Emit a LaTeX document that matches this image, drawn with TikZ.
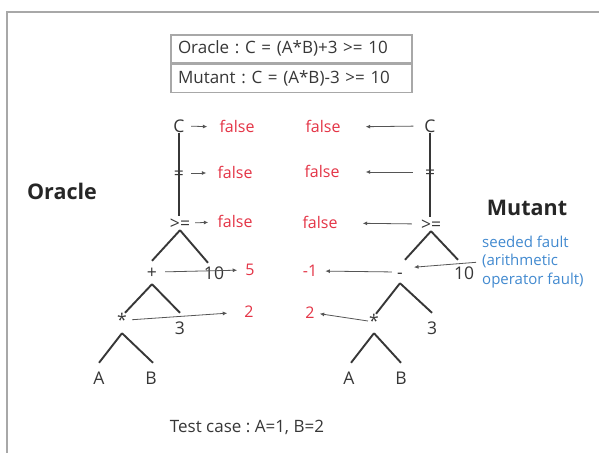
\documentclass[tikz,border=0pt]{standalone}
\usepackage{fontspec}
\setmainfont{Open Sans}
\usetikzlibrary{arrows.meta}
\definecolor{valred}{RGB}{228,52,70}
\definecolor{faultblue}{RGB}{66,138,208}
\definecolor{ink}{RGB}{55,55,55}
\definecolor{framegray}{RGB}{168,168,168}
\frenchspacing
\begin{document}
\begin{tikzpicture}[x=1pt,y=-1pt,
  sym/.style={text=ink,font=\fontsize{17.5}{17.5}\selectfont,inner sep=1pt,text height=12pt,text depth=0pt},
  val/.style={text=valred,font=\fontsize{16}{16}\selectfont,inner sep=0pt,text height=11pt,text depth=0pt},
  branch/.style={draw=ink,line width=1.9pt},
  feed/.style={draw=ink!85,line width=0.8pt,-{Latex[length=4.5pt,width=4pt]}},
  formula/.style={draw=framegray,line width=1.3pt,text width=227pt,align=left,inner xsep=7pt,
    inner ysep=6pt,text height=12.5pt,text depth=3.5pt,text=ink,font=\fontsize{17}{17}\selectfont},
  title/.style={text=black!85,font=\fontsize{21.5}{21.5}\selectfont\bfseries},
]
\useasboundingbox (0,0) rectangle (599,452);
\fill[white] (0,0) rectangle (599,452);
% outer frame (only its top and left sides fall inside the page)
\draw[framegray,line width=2.2pt] (7,470) -- (7,12) -- (620,12);

% the two expressions
\node[formula] (eqO) at (291.5,49) {Oracle : C = (A*B)+3 >= 10};
\node[formula] (eqM) at (291.5,78.5) {Mutant : C = (A*B)-3 >= 10};

% side titles
\node[title] (tO) at (62,191) {Oracle};
\node[title] (tM) at (527,208) {Mutant};

% oracle expression tree
\node[sym] (oC) at (179,126) {C};
\node[sym] (oEq) at (179,173) {=};
\node[sym] (oGe) at (180,223) {>=};
\node[sym] (oPlus) at (152,272) {+};
\node[sym] (o10) at (214,273) {10};
\node[sym] (oTimes) at (122,320) {*};
\node[sym] (o3) at (180,328) {3};
\node[sym] (oA) at (99,378) {A};
\node[sym] (oB) at (151,378) {B};

% mutant expression tree
\node[sym] (mC) at (430,126) {C};
\node[sym] (mEq) at (430,172) {=};
\node[sym] (mGe) at (431,224) {>=};
\node[sym] (mMinus) at (400,272) {-};
\node[sym] (m10) at (464,273) {10};
\node[sym] (mTimes) at (374,321) {*};
\node[sym] (m3) at (432,328) {3};
\node[sym] (mA) at (349,378) {A};
\node[sym] (mB) at (401,378) {B};

% evaluated values
\node[val] (oF1) at (237,127) {false};
\node[val] (oF2) at (235,173) {false};
\node[val] (oF3) at (235,222) {false};
\node[val] (o5) at (250,270) {5};
\node[val] (o2) at (249,312) {2};
\node[val] (mF1) at (323,127) {false};
\node[val] (mF2) at (322,172) {false};
\node[val] (mF3) at (320,223) {false};
\node[val] (mM1) at (310,271) {-1};
\node[val] (m2) at (310,313) {2};

% fault annotation
\node[anchor=west,align=left,inner sep=2pt,text=faultblue,
  font=\fontsize{15}{18.5}\selectfont] (fault) at (480,262)
  {seeded fault\\(arithmetic\\operator fault)};

% test input
\node[text=ink,font=\fontsize{17}{17}\selectfont] (tc) at (247,427) {Test case : A=1, B=2};

% oracle branches
\draw[branch] (oC.south) -- (oC.south |- oGe.north);
\draw[branch] (oGe.south) -- ([yshift=4pt]oPlus.north);
\draw[branch] (oGe.south) -- ([xshift=-6pt,yshift=3pt]o10.north);
\draw[branch] ([yshift=-5pt]oPlus.south) -- ([xshift=3pt]oTimes.north);
\draw[branch] ([yshift=-5pt]oPlus.south) -- ([yshift=8pt]o3.north);
\draw[branch] ([yshift=-6pt]oTimes.south) -- ([yshift=8pt]oA.north);
\draw[branch] ([yshift=-6pt]oTimes.south) -- ([xshift=2pt,yshift=8pt]oB.north);

% mutant branches
\draw[branch] (mC.south) -- (mC.south |- mGe.north);
\draw[branch] (mGe.south) -- ([xshift=5pt,yshift=5pt]mMinus.north);
\draw[branch] (mGe.south) -- ([xshift=-6pt,yshift=6pt]m10.north);
\draw[branch] ([yshift=-4pt]mMinus.south) -- ([xshift=2pt]mTimes.north);
\draw[branch] ([yshift=-4pt]mMinus.south) -- ([yshift=8pt]m3.north);
\draw[branch] ([yshift=-5pt]mTimes.south) -- ([xshift=2pt,yshift=8pt]mA.north);
\draw[branch] ([yshift=-5pt]mTimes.south) -- ([yshift=8pt]mB.north);

% value propagation, oracle side
\draw[feed,shorten <=5.5pt,shorten >=12pt] (oC.east) -- (oF1.west);
\draw[feed,shorten <=6pt,shorten >=11pt] (oEq.east) -- (oF2.west);
\draw[feed,shorten <=4pt,shorten >=9pt] (oGe.east) -- (oF3.west);
\draw[feed,shorten <=7pt,shorten >=8pt] (oPlus.east) -- (o5.west);
\draw[feed,shorten <=4pt,shorten >=17pt] (oTimes.east) -- (o2.west);

% value propagation, mutant side
\draw[feed,shorten <=10pt,shorten >=25pt] (mC.west) -- (mF1.east);
\draw[feed,shorten <=11pt,shorten >=26pt] (mEq.west) -- (mF2.east);
\draw[feed,shorten <=8pt,shorten >=25pt] (mGe.west) -- (mF3.east);
\draw[feed,shorten <=4pt,shorten >=8pt] (mMinus.west) -- (mM1.east);
\draw[feed,shorten <=0pt,shorten >=5pt] (mTimes.west) -- (m2.east);
\draw[feed,shorten <=4pt,shorten >=10pt] (fault.west) -- ([yshift=4pt]mMinus.east);
\end{tikzpicture}
\end{document}
